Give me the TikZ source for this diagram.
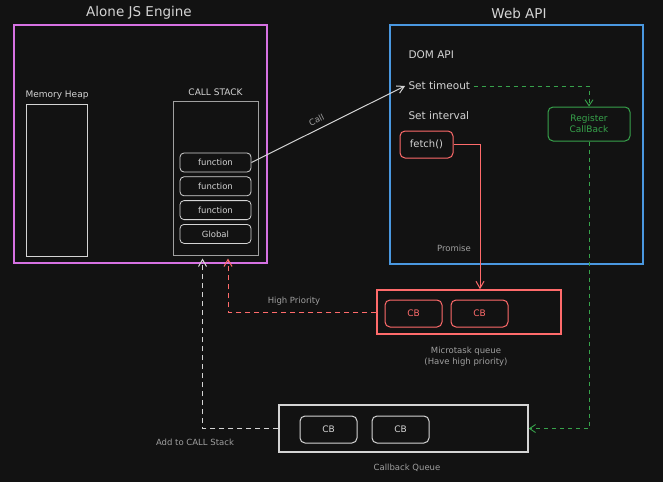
\documentclass[tikz,border=0pt]{standalone}
\usepackage{fontspec}
\setmainfont{DejaVu Sans}
\usepackage{xcolor}
\usepackage{tikz}
\usetikzlibrary{arrows.meta,positioning}
\definecolor{bgdark}{HTML}{121212}
\definecolor{inkwhite}{HTML}{D4D4D4}
\definecolor{inkgray}{HTML}{A0A0A0}
\definecolor{enginepurple}{HTML}{D672E3}
\definecolor{apiblue}{HTML}{4A98E0}
\definecolor{taskred}{HTML}{FF6B6B}
\definecolor{regreen}{HTML}{37A24B}
\tikzset{
  frame/.style={rectangle,line width=1.5pt,inner sep=0pt},
  enginebox/.style={frame,draw=enginepurple,minimum width=253pt,minimum height=238pt},
  apibox/.style={frame,draw=apiblue,minimum width=253pt,minimum height=239pt},
  plainbox/.style={frame,draw=inkwhite,line width=1pt},
  stackitem/.style={rectangle,rounded corners=4pt,draw=inkwhite,line width=0.8pt,minimum width=71pt,minimum height=19pt,inner sep=0pt,text=inkwhite,font=\fontsize{8.5}{10}\selectfont},
  cbbox/.style={rectangle,rounded corners=5pt,line width=1pt,minimum width=57pt,minimum height=27pt,inner sep=0pt,font=\fontsize{9}{11}\selectfont},
  title/.style={text=inkwhite,font=\fontsize{13.5}{16}\selectfont},
  label/.style={text=inkwhite,font=\fontsize{10.5}{12}\selectfont},
  note/.style={text=inkgray,font=\fontsize{8.5}{11}\selectfont,align=center},
  callarrow/.style={-{Straight Barb[length=7pt,width=8pt]},line width=1pt,draw=inkwhite},
  greendash/.style={-{Straight Barb[length=6pt,width=8pt]},line width=0.9pt,draw=regreen,dash pattern=on 4pt off 4pt},
  redarrow/.style={-{Straight Barb[length=7pt,width=8pt]},line width=1pt,draw=taskred},
  reddash/.style={-{Straight Barb[length=7pt,width=8pt]},line width=1pt,draw=taskred,dash pattern=on 5pt off 4pt},
  whitedash/.style={-{Straight Barb[length=7pt,width=8pt]},line width=1pt,draw=inkwhite,dash pattern=on 5pt off 4pt}
}

\begin{document}
\begin{tikzpicture}[x=1pt,y=-1pt]
  \fill[bgdark] (0,0) rectangle (663,482);
  \useasboundingbox (0,0) rectangle (663,482);

  % JS engine side
  \node[title] (enginetitle) at (139,13) {Alone JS Engine};
  \node[enginebox] (engine) at (140.5,144) {};
  \node[label,font=\fontsize{9}{10}\selectfont] (heaplabel) at (57,95) {Memory Heap};
  \node[plainbox,minimum width=61pt,minimum height=152pt] (heap) at (56.5,180) {};
  \node[label,font=\fontsize{9}{10}\selectfont] (stacklabel) at (215.5,92) {CALL STACK};
  \node[plainbox,draw=inkgray,minimum width=85pt,minimum height=154pt] (stack) at (215.5,178) {};
  \node[stackitem] (fnA) at (215.5,162.5) {function};
  \node[stackitem, below=4pt of fnA] (fnB) {function};
  \node[stackitem, below=4pt of fnB] (fnC) {function};
  \node[stackitem, below=4pt of fnC] (glob) {Global};

  % web api side
  \node[title] (apititle) at (519,13) {Web API};
  \node[apibox] (webapi) at (516.5,144.5) {};
  \node[label,anchor=west] (domapi) at (405,55) {DOM API};
  \node[label,anchor=west] (timeout) at (405,86) {Set timeout};
  \node[label,anchor=west] (interval) at (405,116) {Set interval};
  \node[cbbox,draw=taskred,text=inkwhite,minimum width=53pt,font=\fontsize{10}{12}\selectfont] (fetch) at (426.5,144.5) {fetch()};
  \node[cbbox,draw=regreen,text=regreen,minimum width=82pt,minimum height=34pt,align=center,font=\fontsize{9}{11}\selectfont] (register) at (589,124) {Register\\CallBack};
  \node[note] (promise) at (454,248) {Promise};

  % microtask queue
  \node[frame,draw=taskred,minimum width=184pt,minimum height=44pt] (micro) at (469,312) {};
  \node[cbbox,draw=taskred,text=taskred] (mcbA) at (413.5,313.5) {CB};
  \node[cbbox,draw=taskred,text=taskred,right=8pt of mcbA] (mcbB) {CB};
  \node[note] (microlabel) at (466,357) {Microtask queue\\(Have high priority)};

  % callback queue
  \node[frame,draw=inkwhite,minimum width=249pt,minimum height=47pt] (cbqueue) at (403.5,428.5) {};
  \node[cbbox,draw=inkwhite,text=inkwhite] (qcbA) at (328.5,429.5) {CB};
  \node[cbbox,draw=inkwhite,text=inkwhite,right=14pt of qcbA] (qcbB) {CB};
  \node[note] (cbqlabel) at (407,468) {Callback Queue};

  % connectors
  \draw[callarrow] (fnA.east) -- (timeout.west) node[pos=0.45,above=2pt,sloped,note] {Call};
  \draw[greendash] (timeout.east) -| (register.north);
  \draw[greendash] (register.south) |- (cbqueue.east);
  \draw[redarrow] (fetch.east) -| ([xshift=11pt]micro.north);
  \draw[reddash] (micro.west) -| ([xshift=12.5pt,yshift=-3pt]stack.south);
  \node[note] (hiprio) at (294,301) {High Priority};
  \draw[whitedash] (cbqueue.west) -| ([xshift=-13pt,yshift=-3pt]stack.south);
  \node[note] (addlabel) at (195,442) {Add to CALL Stack};
\end{tikzpicture}
\end{document}
